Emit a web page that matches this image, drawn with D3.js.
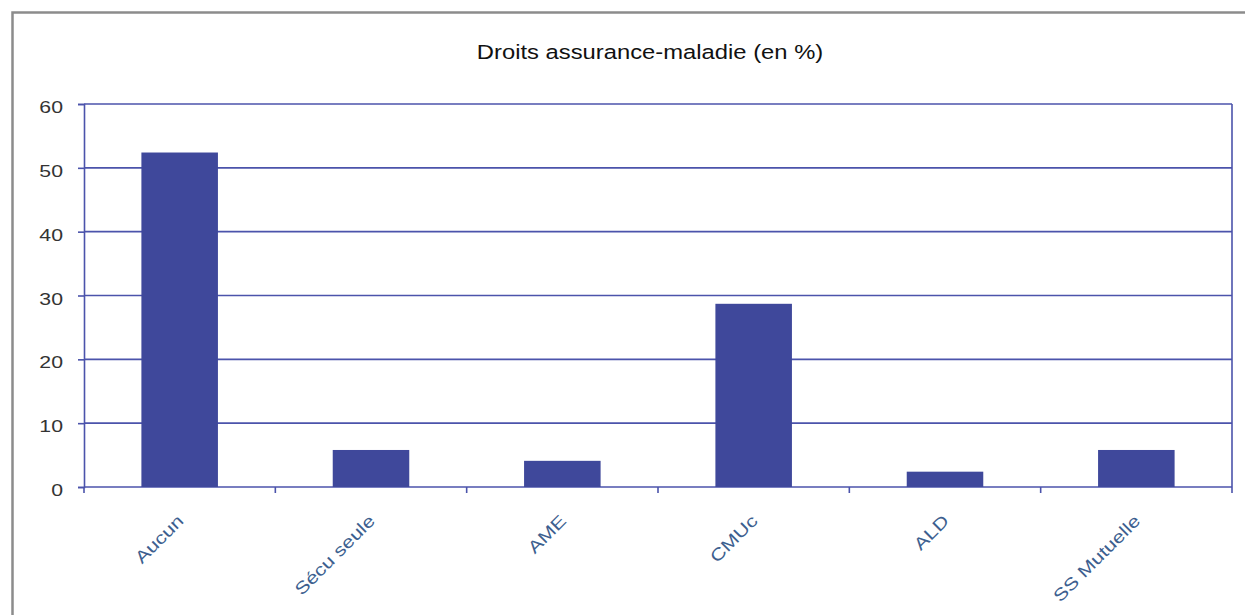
<!DOCTYPE html>
<html>
<head>
<meta charset="utf-8">
<script src="https://cdn.jsdelivr.net/npm/d3@7"></script>
<style>
  body { margin: 0; background: #fff; }
  text { font-family: "Liberation Sans", Arial, sans-serif; }
</style>
</head>
<body>
<div id="chart"></div>
<script>
// Data
var categories = ["Aucun", "Sécu seule", "AME", "CMUc", "ALD", "SS Mutuelle"];
var values = [52.4, 5.8, 4.1, 28.7, 2.4, 5.8];
var yTicks = [0, 10, 20, 30, 40, 50, 60];

var W = 1245, H = 615;
var margin = { top: 104, right: 13, bottom: 128, left: 84 },
    width = W - margin.left - margin.right,
    height = H - margin.top - margin.bottom;

// the text in the picture is a bit wider than the font
var stretch = 1.25;

var svg = d3.select("#chart")
  .append("svg")
    .attr("width", W)
    .attr("height", H);

// outer frame (only top and left visible)
svg.append("path")
  .attr("d", "M12.5," + H + "V12.5H" + W)
  .attr("fill", "none")
  .attr("stroke", "#8c8c8c")
  .attr("stroke-width", 2.5);

svg.append("text")
  .attr("transform", "translate(650,59) scale(1.22,1)")
  .attr("text-anchor", "middle")
  .style("font-size", "19.5px")
  .style("fill", "#111")
  .text("Droits assurance-maladie (en %)");

var g = svg.append("g")
  .attr("transform", `translate(${margin.left},${margin.top})`);

var x = d3.scaleBand()
  .domain(categories)
  .range([0, width])
  .paddingInner(0.6)
  .paddingOuter(0.3);

var xb = d3.scaleBand().domain(categories).range([0, width]);

var y = d3.scaleLinear()
  .domain([0, 60])
  .range([height, 0]);

var blue = "#3f489b";
var line = "#4b53ab";

// gridlines
g.selectAll(".grid")
  .data(yTicks)
  .enter()
  .append("line")
    .attr("x1", 0)
    .attr("x2", width)
    .attr("y1", function(d) { return y(d); })
    .attr("y2", function(d) { return y(d); })
    .attr("stroke", line)
    .attr("stroke-width", 1.6);

// right border
g.append("line")
  .attr("x1", width).attr("x2", width)
  .attr("y1", 0).attr("y2", height)
  .attr("stroke", line)
  .attr("stroke-width", 1.6);

// Bars
g.selectAll(".bar")
  .data(values)
  .enter()
  .append("rect")
    .attr("x", function(d, i) { return x(categories[i]); })
    .attr("y", function(d) { return y(d); })
    .attr("width", x.bandwidth())
    .attr("height", function(d) { return height - y(d); })
    .attr("fill", blue);

// Y axis
var yAxis = g.append("g")
  .call(d3.axisLeft(y).tickValues(yTicks).tickSize(6));
yAxis.select(".domain").attr("stroke", line).attr("stroke-width", 1.6);
yAxis.selectAll(".tick line").attr("stroke", line).attr("stroke-width", 1.6);
yAxis.selectAll("text")
  .attr("x", 0)
  .attr("dy", "0.5em")
  .attr("transform", `translate(-21,0) scale(${stretch},1)`)
  .style("font-size", "17px")
  .style("fill", "#333")
  .style("font-family", "Liberation Sans, Arial, sans-serif");

// X axis ticks at category boundaries
var bounds = categories.map(function(c) { return xb(c); }).concat([width]);
g.selectAll(".xtick")
  .data(bounds)
  .enter()
  .append("line")
    .attr("x1", function(d) { return d; })
    .attr("x2", function(d) { return d; })
    .attr("y1", height)
    .attr("y2", height + 6)
    .attr("stroke", line)
    .attr("stroke-width", 1.6);

// category labels
g.selectAll(".xlabel")
  .data(categories)
  .enter()
  .append("text")
    .attr("transform", function(d) {
      return `translate(${xb(d) + xb.bandwidth() / 2 + 5},${height + 35}) rotate(-45) scale(${stretch},1)`;
    })
    .attr("text-anchor", "end")
    .style("font-size", "17px")
    .style("fill", "#3d5f8f")
    .text(function(d) { return d; });
</script>
</body>
</html>
